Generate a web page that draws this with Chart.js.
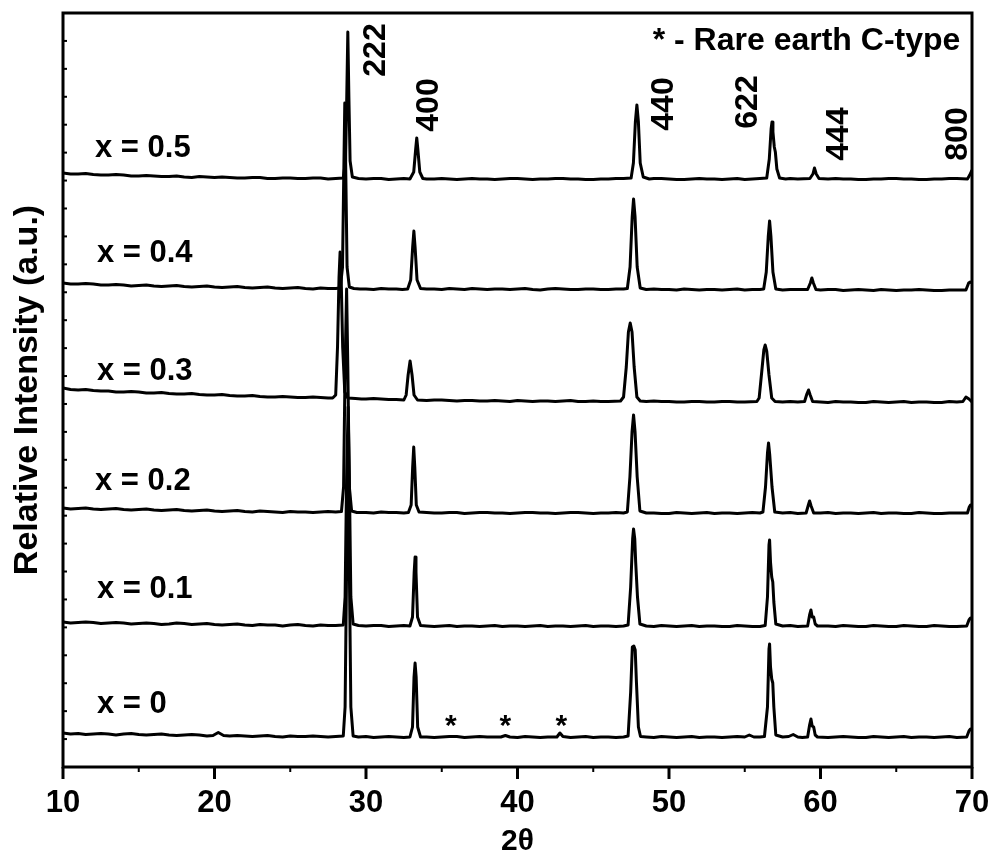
<!DOCTYPE html>
<html><head><meta charset="utf-8">
<script src="https://cdn.jsdelivr.net/npm/chart.js@4"></script>
<style>html,body{margin:0;padding:0;background:#fff;}</style>
</head><body>
<canvas id="c" width="993" height="854"></canvas>
<script>
// 2θ (deg) vs stacked relative intensity (a.u.)
const pattern_x00 = [
[10,34],[10.5,33],[11,33.5],[11.5,32.5],[12,33],[12.5,33.5],[13,33],[13.5,32],[14,33],[14.5,33.5],[15,32.5],[15.5,32],[16,32.5],[16.5,33],[17,32],[17.5,31.5],[18,32],[18.5,32.5],[19,32],[19.5,31],[19.9,31.5],[20.25,34.5],[20.6,31.5],[21,31],[21.5,31.5],[22,31],[22.5,30.5],[23,31],[23.5,31.5],[24,30.5],[24.5,30],[25,31],[25.5,30.5],[26,30.5],[26.5,31],[27,30.5],[27.5,30],[28,30.5],
[28.5,31],[28.62,60],[28.72,200],[28.82,290],[28.9,200],[29.0,60],[29.15,31],
[29.5,30],[30,30.5],[30.5,29.5],[31,30],[31.5,30.5],[32,30],[32.5,29.5],[32.9,30],
[33.07,40],[33.17,90],[33.24,104],[33.31,90],[33.41,40],[33.6,30],
[34,30],[34.5,29.5],[35,30],[35.5,30.5],[36,30.5],[36.5,29.5],[37,30],[37.5,30.5],[38,30],[38.9,30],[39.2,31.5],[39.5,30],[40,29.5],[40.5,30.5],[41,30],[41.5,29.5],[42,30],[42.6,30],[42.8,34],[43.0,30.5],[43.5,29.5],[44,30],[44.5,30.5],[45,29.5],[45.5,30],[46,30],[46.5,29.5],[47,30],
[47.3,31],[47.47,75],[47.58,120],[47.68,121],[47.77,117],[47.85,85],[47.98,40],[48.12,30.5],
[48.5,30],[49,29.5],[49.5,30.5],[50,30],[50.5,29.5],[51,30],[51.5,30.5],[52,29.5],[52.5,30],[53,30],[53.5,29.5],[54,30],[54.5,30.5],[55,30],[55.3,32],[55.6,30],[56,30],[56.3,30.5],
[56.5,60],[56.6,118],[56.64,123],[56.7,100],[56.78,88],[56.85,84],[56.92,60],[57.05,32],
[57.5,30],[57.9,30.5],[58.2,32.5],[58.5,30],[58.8,29.5],[59.15,30],[59.28,42],[59.37,48],[59.45,41],[59.55,40],[59.65,32],[59.8,30],
[60.5,29.5],[61,30],[61.5,30.5],[62,30],[62.5,29.5],[63,29.5],[63.5,30.5],[64,30],[64.5,29.5],[65,30],[65.5,30.5],[66,29.5],[66.5,30],[67,30],[67.5,29.5],[68,30],[68.5,30.5],[69,29.5],[69.65,30],[69.8,36],[69.9,38],[70,37]
];
const pattern_x01 = [
[10,145],[10.5,144],[11,144.5],[11.5,145],[12,144.5],[12.5,143.5],[13,144],[13.5,144.5],[14,144],[14.5,143],[15,143.5],[15.5,144],[16,143.5],[16.5,142.5],[17,143],[17.5,144],[18,143.5],[18.5,142.5],[19,143],[19.5,143.5],[20,142.5],[20.5,142],[21,142.5],[21.5,143],[22,142],[22.5,141.5],[23,142.5],[23.5,142],[24,142],[24.5,141],[25,142],[25.5,142.5],[26,141.5],[26.5,141],[27,142],[27.5,141.5],[28,141.5],
[28.5,142],[28.62,170],[28.72,290],[28.82,360],[28.9,290],[29.0,170],[29.15,143],
[29.5,141.5],[30,141],[30.5,141.5],[31,141.5],[31.5,140.5],[32,141],[32.5,141.5],[32.9,141],
[33.07,150],[33.18,195],[33.24,210],[33.3,195],[33.4,150],[33.6,141.5],
[34,141],[34.5,140.5],[35,141],[35.5,141.5],[36,140.5],[36.5,141],[37,141],[37.5,140.5],[38,141],[38.5,141.5],[39,140.5],[39.5,141],[40,141],[40.5,140.5],[41,141],[41.5,141.5],[42,140.5],[42.5,141],[43,141],[43.5,140.5],[44,141],[44.5,141.5],[45,140.5],[45.5,141],[46,141],[46.5,140.5],[47,141],
[47.3,142],[47.47,180],[47.6,228],[47.66,238],[47.74,228],[47.8,205],[47.92,170],[48.08,143],
[48.5,141],[49,140.5],[49.5,141.5],[50,141],[50.5,140.5],[51,141],[51.5,141.5],[52,140.5],[52.5,141],[53,141],[53.5,140.5],[54,140.5],[54.5,141.5],[55,141],[55.5,140.5],[56,140.5],
[56.35,141.5],[56.5,170],[56.6,222],[56.64,227],[56.7,205],[56.78,190],[56.85,185],[56.92,165],[57.05,143],
[57.5,141],[58,141.5],[58.5,140.5],[59.15,141],[59.28,152],[59.37,157],[59.45,150],[59.55,150],[59.65,143],[59.8,141],
[60.5,141],[61,140.5],[61.5,141.5],[62,141],[62.5,140.5],[63,140.5],[63.5,141.5],[64,141],[64.5,140.5],[65,140.5],[65.5,141.5],[66,141],[66.5,140.5],[67,140.5],[67.5,141.5],[68,141],[68.5,140.5],[69,140.5],[69.65,141],[69.8,147],[69.9,149],[70,148]
];
const pattern_x02 = [
[10,259],[10.5,258],[11,258.5],[11.5,259],[12,258],[12.5,257.5],[13,258],[13.5,258.5],[14,257.5],[14.5,257],[15,257.5],[15.5,258],[16,257],[16.5,256.5],[17,257],[17.5,257.5],[18,256.5],[18.5,256],[19,256.5],[19.5,257],[20,256],[20.5,255.5],[21,256],[21.5,256.5],[22,255.5],[22.5,255],[23,256],[23.5,255.5],[24,255],[24.5,254.5],[25,255.5],[25.5,255],[26,255],[26.5,254.5],[27,255],[27.5,255.5],[28,255],
[28.38,255.5],[28.52,280],[28.62,400],[28.72,478],[28.8,400],[28.9,280],[29.05,256],
[29.4,254.5],[30,254.5],[30.5,254],[31,255],[31.5,254.5],[32,254.5],[32.5,254],[32.8,254.5],
[32.98,262],[33.08,300],[33.15,320],[33.22,300],[33.32,262],[33.5,255],
[34,254.5],[34.5,254],[35,254],[35.5,254.5],[36,254.5],[36.5,253.5],[37,254],[37.5,254.5],[38,254.5],[38.5,254],[39,254],[39.5,253.5],[40,254],[40.5,254.5],[41,254.5],[41.5,254],[42,254],[42.5,253.5],[43,254],[43.5,254.5],[44,254.5],[44.5,254],[45,253.5],[45.5,254],[46,254],[46.5,254.5],[47,254],
[47.25,255],[47.42,290],[47.56,335],[47.66,352],[47.76,335],[47.9,290],[48.08,256],
[48.5,254],[49,254],[49.5,253.5],[50,253.5],[50.5,254.5],[51,254],[51.5,253.5],[52,254],[52.5,254.5],[53,253.5],[53.5,254],[54,254],[54.5,253.5],[55,254],[55.5,254.5],[56,254],
[56.2,255],[56.37,280],[56.5,314],[56.57,324],[56.65,312],[56.8,280],[56.98,255],
[57.5,254],[58,254.5],[58.5,253.5],[59.05,254],[59.2,262],[59.28,266],[59.38,261],[59.55,254],
[60,254],[60.5,254.5],[61,253.5],[61.5,254],[62,254],[62.5,253.5],[63,254],[63.5,254.5],[64,253.5],[64.5,254],[65,254],[65.5,253.5],[66,253.5],[66.5,254.5],[67,254],[67.5,253.5],[68,253.5],[68.5,254],[69,254],[69.7,254],[69.82,260],[69.9,262],[70,261]
];
const pattern_x03 = [
[10,379],[10.5,377.5],[11,377],[11.5,377.5],[12,376.5],[12.5,376],[13,376],[13.5,375],[14,375],[14.5,375.5],[15,375],[15.5,374],[16,374],[16.5,374.5],[17,373.5],[17.5,373],[18,373],[18.5,373.5],[19,372.5],[19.5,372],[20,372],[20.5,372.5],[21,371.5],[21.5,371],[22,371],[22.5,371.5],[23,370.5],[23.5,370],[24,370],[24.5,370.5],[25,370],[25.5,369.5],[26,369.5],[26.5,370],[27,369.5],[27.5,369],[27.8,369],
[28.0,372],[28.12,420],[28.22,490],[28.29,515],[28.36,490],[28.46,420],[28.6,375],[28.8,369],
[29.3,368.5],[29.7,368],[30,368],[30.5,368.5],[31,368],[31.5,367.5],[32,367.5],[32.5,367],
[32.65,372],[32.78,392],[32.91,406],[33.04,392],[33.17,372],[33.4,367],
[34,366.5],[34.5,367],[35,367],[35.5,366.5],[36,366],[36.5,366.5],[37,366.5],[37.5,366],[38,366],[38.5,366.5],[39,366],[39.5,365.5],[40,366.5],[40.5,366],[41,365.5],[41.5,366],[42,366],[42.5,365.5],[43,366],[43.5,366.5],[44,365.5],[44.5,365.5],[45,366],[45.5,365.5],[46,365.5],[46.8,366],
[47.0,370],[47.18,400],[47.32,435],[47.44,444],[47.56,435],[47.7,400],[47.88,370],[48.1,366],
[48.5,365.5],[49,366],[49.5,365.5],[50,365.5],[50.5,365],[51,365],[51.5,365.5],[52,365.5],[52.5,365],[53,365],[53.5,365.5],[54,365.5],[54.5,365],[55,365],[55.8,365.5],
[55.95,369],[56.12,395],[56.26,417],[56.35,422],[56.45,416],[56.6,392],[56.78,369],[57,365.5],
[57.5,365],[58,365.5],[58.5,365],[58.95,365.5],[59.1,373],[59.21,377],[59.32,372],[59.48,365.5],
[60,365],[60.5,364.5],[61,365.5],[61.5,365],[62,365],[62.5,364.5],[63,364.5],[63.5,365.5],[64,365],[64.5,364.5],[65,365],[65.5,365.5],[66,364.5],[66.5,365],[67,365],[67.5,364.5],[68,364.5],[68.5,365.5],[69,365],[69.4,365.5],[69.6,370],[69.8,368],[70,365]
];
const pattern_x04 = [
[10,484],[10.5,483],[11,483],[11.5,483.5],[12,483],[12.5,482],[13,482],[13.5,482.5],[14,482],[14.5,481],[15,481.5],[15.5,482],[16,481],[16.5,480.5],[17,481],[17.5,481.5],[18,480.5],[18.5,480],[19,480.5],[19.5,481],[20,480],[20.5,479.5],[21,480],[21.5,480.5],[22,479.5],[22.5,479],[23,479.5],[23.5,480],[24,479],[24.5,478.5],[25,479],[25.5,479.5],[26,478.5],[26.5,478],[27,479],[27.5,478.5],[28,478.5],
[28.3,479],[28.45,500],[28.53,590],[28.6,664],[28.67,590],[28.75,500],[28.9,480],
[29.2,478.5],[29.6,478],[30,478],[30.5,477.5],[31,478.5],[31.5,478],[32,478],[32.4,477.5],[32.75,478],
[32.95,487],[33.08,520],[33.16,536],[33.24,520],[33.37,487],[33.6,478.5],
[34,478],[34.5,478],[35,477.5],[35.5,478.5],[36,478],[36.5,477.5],[37,478.5],[37.5,478],[38,477.5],[38.5,478],[39,478],[39.5,477.5],[40,478],[40.5,478.5],[41,477.5],[41.5,477],[42,478],[42.5,478.5],[43,478],[43.5,477.5],[44,477.5],[44.5,478],[45,478],[45.5,477.5],[46,477.5],[46.5,478],[47,478],
[47.25,478.5],[47.43,500],[47.57,550],[47.66,568],[47.76,550],[47.9,500],[48.1,479],
[48.5,477.5],[49,478],[49.5,477.5],[50,477.5],[50.5,477],[51,478],[51.5,477.5],[52,477],[52.5,477.5],[53,477.5],[53.5,477],[54,477.5],[54.5,478],[55,477],[55.5,477.5],[56,477.5],
[56.25,478],[56.42,495],[56.55,530],[56.64,546],[56.73,530],[56.86,495],[57.05,478],
[57.5,477],[58,477.5],[58.5,477.5],[59.15,477.5],[59.33,484],[59.43,489],[59.53,484],[59.7,477.5],
[60,477],[60.5,477.5],[61,477.5],[61.5,476.5],[62,477],[62.5,477.5],[63,477],[63.5,476.5],[64,477.5],[64.5,477],[65,476.5],[65.5,477],[66,477],[66.5,477.5],[67,477],[67.5,476.5],[68,476.5],[68.5,477],[69,477],[69.6,477],[69.78,484],[69.88,485],[70,484]
];
const pattern_x05 = [
[10,594],[10.5,593],[11,593],[11.5,593.5],[12,592.5],[12.5,592],[13,592],[13.5,592.5],[14,592],[14.5,591],[15,591],[15.5,591.5],[16,591],[16.5,590.5],[17,590.5],[17.5,591],[18,590],[18.5,589.5],[19,590.5],[19.5,590],[20,589.5],[20.5,590],[21,589.5],[21.5,589],[22,589],[22.5,589.5],[23,589.5],[23.5,588.5],[24,588.5],[24.5,589],[25,589],[25.5,588.5],[26,588.5],[26.5,589],[27,589],[27.5,588],[28,588.5],
[28.5,589],[28.65,606],[28.73,670],[28.8,735],[28.87,670],[28.95,606],[29.1,590],
[29.5,588.5],[30,588],[30.5,588.5],[31,588.5],[31.5,587.5],[32,588],[32.5,588.5],[32.9,588],
[33.15,595],[33.28,618],[33.35,629],[33.42,618],[33.55,595],[33.75,588.5],
[34,588],[34.5,588],[35,588.5],[35.5,588],[36,587.5],[36.5,588],[37,588.5],[37.5,588],[38,588],[38.5,587.5],[39,588],[39.5,588.5],[40,588.5],[40.5,588],[41,587.5],[41.5,588],[42,588],[42.5,588.5],[43,588.5],[43.5,588],[44,588],[44.5,587.5],[45,587.5],[45.5,588],[46,588],[46.5,588.5],[47,588.5],
[47.5,589],[47.65,604],[47.78,645],[47.88,662],[47.98,645],[48.1,604],[48.3,590],
[48.7,588],[49,588.5],[49.5,588.5],[50,588],[50.5,587.5],[51,587.5],[51.5,588],[52,588.5],[52.5,588],[53,588],[53.5,587.5],[54,588],[54.5,588.5],[55,587.5],[55.5,588],[56,588.5],
[56.45,589],[56.62,608],[56.74,638],[56.8,645],[56.86,635],[56.95,620],[57.02,615],[57.12,598],[57.3,589],
[57.7,588],[58,588.5],[58.5,588],[59.3,588.5],[59.5,593],[59.6,599],[59.72,593],[59.9,588.5],
[60.5,588],[61,588.5],[61.5,588],[62,588],[62.5,587.5],[63,587.5],[63.5,588],[64,588],[64.5,588.5],[65,588.5],[65.5,588],[66,588],[66.5,587.5],[67,587.5],[67.5,588],[68,588],[68.5,588.5],[69,588.5],[69.7,588],[69.85,592],[70,597]
];
const sampleNames = ['x = 0','x = 0.1','x = 0.2','x = 0.3','x = 0.4','x = 0.5'];
const peakIndices = ['222','400','440','622','444','800'];
const impurityPeaks = [35.6, 39.2, 42.9];
const noteText = '* - Rare earth C-type';
const xTicks = [10,20,30,40,50,60,70];

const FONT = '"Liberation Sans", Arial, sans-serif';
const patterns = [pattern_x00,pattern_x01,pattern_x02,pattern_x03,pattern_x04,pattern_x05];

// layout of text (data coordinates)
const sampleLabelPos = [[12.24,54],[12.24,169],[12.11,277],[12.24,387],[12.24,505],[12.11,610]];
const peakLabelPos = [[31.26,717],[34.76,662],[50.28,663],[55.82,665],[61.83,633],[69.69,633]];
const notePos = [69.23,717];
const starY = 32;

const annot = {
  id:'annot',
  afterDraw(chart){
    const {ctx, chartArea:a, scales:{x,y}} = chart;
    ctx.save();
    ctx.strokeStyle='#000'; ctx.lineWidth=3;
    ctx.strokeRect(a.left, a.top, a.right-a.left, a.bottom-a.top);
    for (let v=10; v<=70; v+=5){
      const px = x.getPixelForValue(v);
      const major = xTicks.includes(v);
      ctx.lineWidth = major?3:2;
      ctx.beginPath(); ctx.moveTo(px, a.bottom); ctx.lineTo(px, a.bottom + (major?12:5)); ctx.stroke();
    }
    ctx.lineWidth=2;
    y.ticks.forEach(t=>{
      const py = y.getPixelForValue(t.value);
      ctx.beginPath(); ctx.moveTo(a.left, py); ctx.lineTo(a.left+4, py); ctx.stroke();
    });
    ctx.fillStyle='#000';
    ctx.font = 'bold 31px '+FONT; ctx.textAlign='left'; ctx.textBaseline='alphabetic';
    sampleNames.forEach((s,i)=>{
      ctx.fillText(s, x.getPixelForValue(sampleLabelPos[i][0]), y.getPixelForValue(sampleLabelPos[i][1]));
    });
    ctx.font = 'bold 32px '+FONT; ctx.textAlign='center';
    peakIndices.forEach((s,i)=>{
      ctx.save();
      ctx.translate(x.getPixelForValue(peakLabelPos[i][0]), y.getPixelForValue(peakLabelPos[i][1]));
      ctx.rotate(-Math.PI/2);
      ctx.fillText(s,0,0);
      ctx.restore();
    });
    ctx.font = 'bold 30px '+FONT; ctx.textAlign='center';
    impurityPeaks.forEach(v=>{
      ctx.fillText('*', x.getPixelForValue(v), y.getPixelForValue(starY));
    });
    ctx.font = 'bold 32px '+FONT; ctx.textAlign='right';
    ctx.fillText(noteText, x.getPixelForValue(notePos[0]), y.getPixelForValue(notePos[1]));
    ctx.restore();
  }
};

new Chart(document.getElementById('c'), {
  type:'line',
  data:{ datasets: patterns.map((p,i)=>({
    label: sampleNames[i],
    data: p.map(([t,v])=>({x:t,y:v})),
    borderColor:'#000', borderWidth:3, pointRadius:0, fill:false, tension:0,
    borderJoinStyle:'round'
  }))},
  options:{
    responsive:false, animation:false, devicePixelRatio:1,
    layout:{padding:{top:13,right:21,left:0,bottom:0}},
    plugins:{legend:{display:false}, tooltip:{enabled:false}},
    scales:{
      x:{type:'linear', min:10, max:70,
        grid:{display:false, drawTicks:false}, border:{display:false},
        ticks:{stepSize:10, color:'#000', padding:18, font:{family:FONT, size:31, weight:'bold', lineHeight:1.2}, maxRotation:0},
        title:{display:true, text:'2θ', color:'#000', font:{family:FONT, size:30, weight:'bold', lineHeight:0.8}, padding:{top:0,bottom:0}},
        afterFit(s){ s.height = 87; s.paddingLeft = 0; s.paddingRight = 0; }
      },
      y:{type:'linear', min:0, max:754,
        grid:{display:false, drawTicks:false}, border:{display:false},
        ticks:{display:false, stepSize:754/27},
        title:{display:true, text:'Relative Intensity (a.u.)', color:'#000', font:{family:FONT, size:34, weight:'bold', lineHeight:1}, padding:{top:11,bottom:0}},
        afterFit(s){ s.width = 63; s.paddingTop = 0; s.paddingBottom = 0; }
      }
    }
  },
  plugins:[annot]
});
</script>
</body></html>
